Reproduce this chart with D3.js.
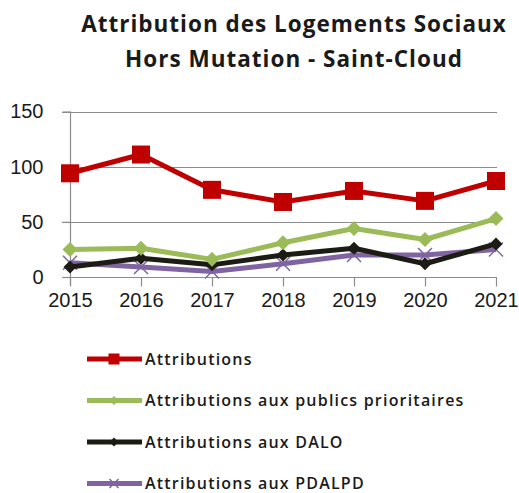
<!DOCTYPE html>
<html>
<head>
<meta charset="utf-8">
<script src="https://cdn.jsdelivr.net/npm/d3@7"></script>
<style>
  body { margin: 0; background: #fff; }
  svg { display: block; }
</style>
</head>
<body>
<div id="chart"></div>
<script>

// data
var years = [ 2015, 2016, 2017, 2018, 2019, 2020, 2021 ];
var attributions = [ 94, 111, 79, 68, 78, 69, 87 ];
var prioritaires = [ 25, 26, 16, 31, 44, 34, 53 ];
var dalo = [ 9, 17, 11, 20, 26, 12, 30 ];
var pdalpd = [ 13, 9, 5, 12, 20, 20, 25 ];
var yTicks = [ 0, 50, 100, 150 ];
var seriesNames = [ 'Attributions', 'Attributions aux publics prioritaires', 'Attributions aux DALO', 'Attributions aux PDALPD' ];
var titleLines = [ 'Attribution des Logements Sociaux', 'Hors Mutation - Saint-Cloud' ];

var width = 519,
    height = 493;

var series = [
    { name: seriesNames[0], values: attributions, color: '#c00000', marker: 'square', size: 18 },
    { name: seriesNames[1], values: prioritaires, color: '#9bbb59', marker: 'diamond', size: 15 },
    { name: seriesNames[2], values: dalo, color: '#1c1c14', marker: 'diamond', size: 13 },
    { name: seriesNames[3], values: pdalpd, color: '#8064a2', marker: 'cross', size: 14 }
];

var svg = d3.select('#chart').append('svg')
    .attr('width', width)
    .attr('height', height);

// title
svg.append('text')
    .attr('x', 294)
    .attr('y', 32)
    .attr('text-anchor', 'middle')
    .style('font-family', '"Open Sans", sans-serif')
    .style('font-weight', 'bold')
    .style('font-size', '22.5px')
    .style('letter-spacing', '1px')
    .style('fill', '#1a1a1a')
    .selectAll('tspan')
    .data( titleLines )
    .enter().append('tspan')
    .attr('x', 294)
    .attr('dy', function ( d, i ) { return i ? 35 : 0; })
    .text( function ( d ) { return d; });

var x = d3.scalePoint()
    .domain( years )
    .range([ 70, 496 ]);

var y = d3.scaleLinear()
    .domain([ 0, 150 ])
    .range([ 277, 111.5 ]);

// grid
svg.append('g')
    .selectAll('line')
    .data( yTicks.slice( 1 ) )
    .enter().append('line')
    .attr('x1', 62)
    .attr('x2', 497)
    .attr('y1', function ( d ) { return Math.round( y( d ) ) + 0.5; })
    .attr('y2', function ( d ) { return Math.round( y( d ) ) + 0.5; })
    .style('stroke', '#8c8c8c')
    .style('stroke-width', 1.2);

// y axis
var yAxis = svg.append('g')
    .attr('transform', 'translate(70.5,0)')
    .call( d3.axisLeft( y ).tickValues( yTicks ).tickSize( 8 ).tickPadding( 19 ) );

yAxis.select('.domain').style('stroke', '#8c8c8c').style('stroke-width', 1.2).attr('d', 'M0,' + y( 150 ) + 'V' + ( y( 0 ) + 8 ));
yAxis.selectAll('.tick line').style('stroke', '#8c8c8c').style('stroke-width', 1.2);
yAxis.selectAll('text')
    .style('font-family', '"Liberation Sans", Arial, sans-serif')
    .style('font-size', '20px')
    .style('fill', '#1a1a1a');

// x axis
var xAxis = svg.append('g')
    .attr('transform', 'translate(0,' + ( Math.round( y( 0 ) ) + 0.5 ) + ')')
    .call( d3.axisBottom( x ).tickSize( 9 ).tickPadding( 6 ) );

xAxis.select('.domain').style('stroke', '#8c8c8c').style('stroke-width', 1.2).attr('d', 'M62,0H497');
xAxis.selectAll('.tick line').style('stroke', '#8c8c8c').style('stroke-width', 1.2);
xAxis.selectAll('text')
    .style('font-family', '"Liberation Sans", Arial, sans-serif')
    .style('font-size', '20px')
    .style('fill', '#1a1a1a');

// markers
function drawMarker ( sel, s ) {

    var h = s.size / 2;

    if ( s.marker === 'square' ) {

        sel.append('rect')
            .attr('x', -h).attr('y', -h)
            .attr('width', s.size).attr('height', s.size)
            .style('fill', s.color);

    } else if ( s.marker === 'diamond' ) {

        sel.append('path')
            .attr('d', 'M0,' + (-h) + 'L' + h + ',0L0,' + h + 'L' + (-h) + ',0Z')
            .style('fill', s.color);

    } else {

        sel.append('path')
            .attr('d', 'M' + (-h) + ',' + (-h) + 'L' + h + ',' + h + 'M' + h + ',' + (-h) + 'L' + (-h) + ',' + h)
            .style('stroke', s.color)
            .style('stroke-width', 1.5)
            .style('fill', 'none');

    }

}

var line = d3.line()
    .x( function ( d, i ) { return x( years[ i ] ); })
    .y( function ( d ) { return y( d ); });

// draw from back to front
series.slice().reverse().forEach( function ( s ) {

    var g = svg.append('g');

    g.append('path')
        .datum( s.values )
        .attr('d', line)
        .style('fill', 'none')
        .style('stroke', s.color)
        .style('stroke-width', 5)
        .style('stroke-linejoin', 'round');

    g.selectAll('.pt')
        .data( s.values )
        .enter().append('g')
        .attr('class', 'pt')
        .attr('transform', function ( d, i ) { return 'translate(' + x( years[ i ] ) + ',' + y( d ) + ')'; })
        .each( function () { drawMarker( d3.select( this ), s ); });

});

// legend
var legend = svg.append('g')
    .selectAll('g')
    .data( series )
    .enter().append('g')
    .attr('transform', function ( d, i ) { return 'translate(87,' + ( 359 + i * 41.5 ) + ')'; });

legend.append('line')
    .attr('x1', 0)
    .attr('x2', 55)
    .style('stroke', function ( d ) { return d.color; })
    .style('stroke-width', 5);

legend.append('g')
    .attr('transform', 'translate(27,0)')
    .each( function ( d ) {
        drawMarker( d3.select( this ), { marker: d.marker, color: d.color, size: d.marker === 'square' ? 11 : 9 } );
    });

legend.append('text')
    .attr('x', 58)
    .attr('dy', '0.35em')
    .style('font-family', '"Open Sans", sans-serif')
    .style('font-weight', 600)
    .style('font-size', '16px')
    .style('letter-spacing', '1.2px')
    .style('fill', '#1a1a1a')
    .text( function ( d ) { return d.name; });

</script>
</body>
</html>
